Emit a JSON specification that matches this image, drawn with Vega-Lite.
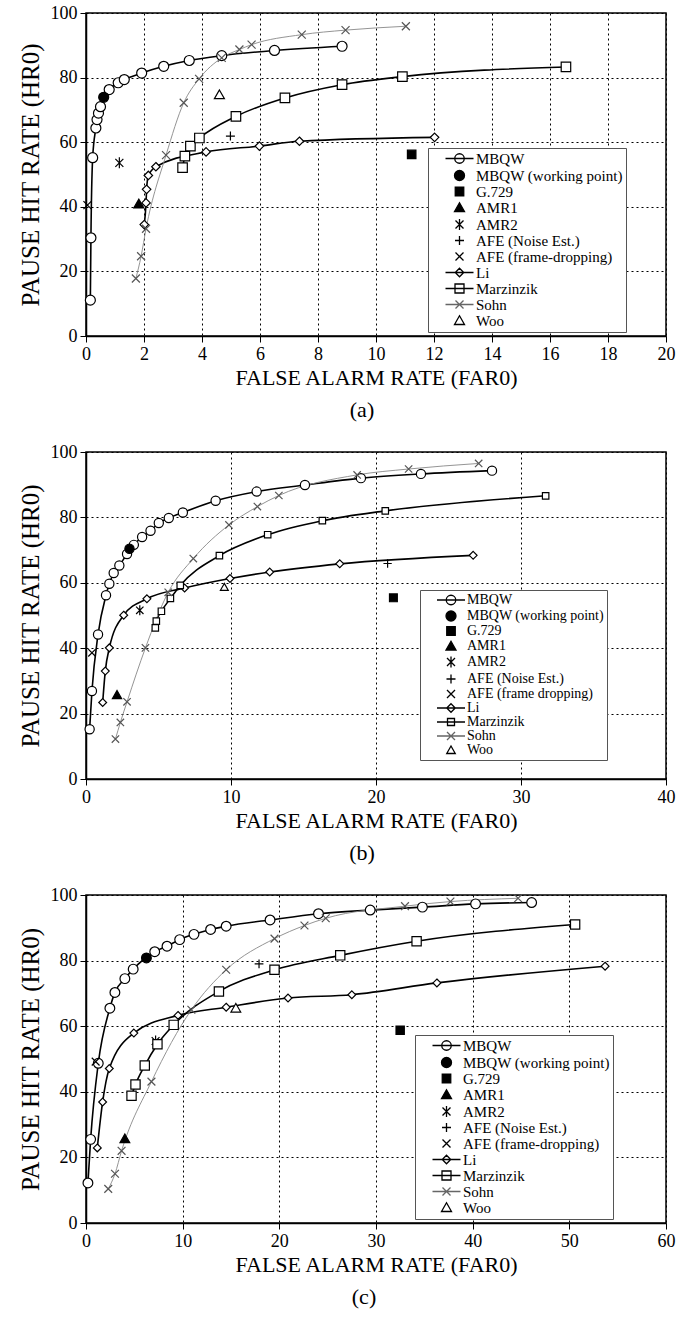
{
  "$schema": "https://vega.github.io/schema/vega-lite/v6.json",
  "background": "white",
  "padding": {"left": 17, "top": 3, "right": 5, "bottom": 5},
  "spacing": 20,
  "config": {
    "font": "Liberation Serif",
    "view": {"stroke": "black", "strokeWidth": 1.5},
    "axis": {
      "labelFont": "Liberation Serif", "titleFont": "Liberation Serif",
      "labelFontSize": 18, "titleFontSize": 22, "titleFontWeight": "normal",
      "labelColor": "black", "titleColor": "black",
      "domainColor": "black", "domainWidth": 1.5,
      "tickColor": "black", "tickSize": 6, "tickWidth": 1,
      "gridColor": "black", "gridDash": [2, 3], "gridWidth": 1, "gridOpacity": 1,
      "labelPadding": 3, "labelFlush": false
    },
    "axisY": {"titleFontSize": 25, "titlePadding": 7},
    "axisX": {"titlePadding": 4},
    "legend": {
      "labelFont": "Liberation Serif", "labelColor": "black",
      "labelLimit": 400, "strokeColor": "#555", "fillColor": "white", "padding": 3,
      "symbolOffset": 21, "labelOffset": 9, "title": null, "rowPadding": 0,
      "symbolStrokeWidth": 1.3, "symbolSize": 100
    }
  },
  "resolve": {
    "scale": {"x": "independent", "y": "independent", "shape": "independent", "fill": "independent", "stroke": "independent"},
    "legend": {"shape": "independent", "fill": "independent", "stroke": "independent"}
  },
  "vconcat": [
    {
      "width": 580, "height": 323,
      "title": {"text": "(a)", "orient": "bottom", "frame": "group", "anchor": "middle", "fontSize": 22, "font": "Liberation Serif", "fontWeight": "normal", "color": "black", "offset": 12, "dx": -14},
      "data": {"values": [
        {"s":"MBQW","x":0.15,"y":11.1},{"s":"MBQW","x":0.17,"y":30.4},{"s":"MBQW","x":0.23,"y":55.2},{"s":"MBQW","x":0.34,"y":64.4},{"s":"MBQW","x":0.38,"y":67},{"s":"MBQW","x":0.43,"y":69},{"s":"MBQW","x":0.5,"y":71},{"s":"MBQW","x":0.8,"y":76.3},{"s":"MBQW","x":1.11,"y":78.4},{"s":"MBQW","x":1.32,"y":79.4},{"s":"MBQW","x":1.92,"y":81.4},{"s":"MBQW","x":2.68,"y":83.5},{"s":"MBQW","x":3.56,"y":85.3},{"s":"MBQW","x":4.68,"y":86.8},{"s":"MBQW","x":6.5,"y":88.4},{"s":"MBQW","x":8.83,"y":89.7},
        {"s":"MBQW (working point)","x":0.61,"y":73.9},
        {"s":"G.729","x":11.23,"y":56.2},
        {"s":"AMR1","x":1.82,"y":40.9},
        {"s":"AMR2","x":1.15,"y":53.6},
        {"s":"AFE (Noise Est.)","x":4.98,"y":61.9},
        {"s":"AFE (frame-dropping)","x":0.05,"y":40.5},
        {"s":"Li","x":2.01,"y":34.5},{"s":"Li","x":2.07,"y":41.2},{"s":"Li","x":2.09,"y":45.4},{"s":"Li","x":2.15,"y":49.7},{"s":"Li","x":2.41,"y":52.4},{"s":"Li","x":4.14,"y":57},{"s":"Li","x":5.98,"y":58.8},{"s":"Li","x":7.36,"y":60.3},{"s":"Li","x":12.02,"y":61.5},
        {"s":"Marzinzik","x":3.33,"y":52.1},{"s":"Marzinzik","x":3.41,"y":55.7},{"s":"Marzinzik","x":3.6,"y":58.8},{"s":"Marzinzik","x":3.91,"y":61.3},{"s":"Marzinzik","x":5.17,"y":68},{"s":"Marzinzik","x":6.86,"y":73.7},{"s":"Marzinzik","x":8.83,"y":77.8},{"s":"Marzinzik","x":10.91,"y":80.3},{"s":"Marzinzik","x":16.55,"y":83.3},
        {"s":"Sohn","x":1.72,"y":17.8},{"s":"Sohn","x":1.9,"y":24.7},{"s":"Sohn","x":2.07,"y":33.2},{"s":"Sohn","x":2.76,"y":56},{"s":"Sohn","x":3.37,"y":72.2},{"s":"Sohn","x":3.9,"y":79.6},{"s":"Sohn","x":4.68,"y":86.1},{"s":"Sohn","x":5.29,"y":88.7},{"s":"Sohn","x":5.71,"y":90.2},{"s":"Sohn","x":7.44,"y":93.3},{"s":"Sohn","x":8.95,"y":94.7},{"s":"Sohn","x":11.03,"y":95.9},
        {"s":"Woo","x":4.6,"y":74.7}
      ]},
      "encoding": {
        "x": {"field": "x", "type": "quantitative", "scale": {"domain": [0, 20], "nice": false}, "axis": {"values": [0,2,4,6,8,10,12,14,16,18,20], "title": "FALSE ALARM RATE (FAR0)"}},
        "y": {"field": "y", "type": "quantitative", "scale": {"domain": [0, 100], "nice": false}, "axis": {"values": [0,20,40,60,80,100], "title": "PAUSE HIT RATE (HR0)"}}
      },
      "resolve": {"scale": {"shape": "independent", "fill": "independent", "stroke": "independent"}, "legend": {"shape": "independent", "fill": "independent", "stroke": "independent"}},
      "layer": [
        {"transform": [{"filter": {"field": "s", "oneOf": ["MBQW", "Li", "Marzinzik"]}}],
         "mark": {"type": "line", "interpolate": "monotone", "color": "black", "strokeWidth": 1.6},
         "encoding": {"detail": {"field": "s"}}},
        {"transform": [{"filter": {"field": "s", "equal": "Sohn"}}],
         "mark": {"type": "line", "interpolate": "monotone", "color": "#888", "strokeWidth": 0.9},
         "encoding": {}},
        {"mark": {"type": "point", "size": 100, "strokeWidth": 1.2, "opacity": 1},
         "encoding": {
           "shape": {"field": "s", "type": "nominal", "legend": null,
             "scale": {"domain": ["MBQW","MBQW (working point)","G.729","AMR1","AMR2","AFE (Noise Est.)","AFE (frame-dropping)","Li","Marzinzik","Sohn","Woo"],
               "range": ["circle","circle","M-0.85,-0.85H0.85V0.85H-0.85Z","M0,-0.95L1,0.8H-1Z","M-0.8,-0.8L0.8,0.8M-0.8,0.8L0.8,-0.8M0,-1.1V1.1","M-0.9,0H0.9M0,-0.9V0.9","M-0.8,-0.8L0.8,0.8M-0.8,0.8L0.8,-0.8","M0,-0.85L0.85,0L0,0.85L-0.85,0Z","M-0.95,-0.95H0.95V0.95H-0.95Z","M-0.8,-0.8L0.8,0.8M-0.8,0.8L0.8,-0.8","M0,-0.95L1,0.8H-1Z"]}},
           "fill": {"field": "s", "type": "nominal", "legend": null,
             "scale": {"domain": ["MBQW","MBQW (working point)","G.729","AMR1","AMR2","AFE (Noise Est.)","AFE (frame-dropping)","Li","Marzinzik","Sohn","Woo"],
               "range": ["white","black","black","black","transparent","transparent","transparent","white","white","transparent","white"]}},
           "stroke": {"field": "s", "type": "nominal", "legend": null,
             "scale": {"domain": ["MBQW","MBQW (working point)","G.729","AMR1","AMR2","AFE (Noise Est.)","AFE (frame-dropping)","Li","Marzinzik","Sohn","Woo"],
               "range": ["black","black","black","black","black","black","black","black","black","#555","black"]}}
         }},
        {"mark": {"type": "point", "size": 100, "opacity": 0, "strokeWidth": 1.3},
         "encoding": {
           "shape": {"field": "s", "type": "nominal",
             "scale": {"domain": ["MBQW","MBQW (working point)","G.729","AMR1","AMR2","AFE (Noise Est.)","AFE (frame-dropping)","Li","Marzinzik","Sohn","Woo"],
               "range": ["M-2.8,0H2.8M0.95,0A0.95,0.95 0 1 1 -0.95,0A0.95,0.95 0 1 1 0.95,0","circle","M-0.85,-0.85H0.85V0.85H-0.85Z","M0,-0.95L1,0.8H-1Z","M-0.8,-0.8L0.8,0.8M-0.8,0.8L0.8,-0.8M0,-1.1V1.1","M-0.9,0H0.9M0,-0.9V0.9","M-0.8,-0.8L0.8,0.8M-0.8,0.8L0.8,-0.8","M-2.8,0H2.8M0,-0.85L0.85,0L0,0.85L-0.85,0Z","M-2.8,0H2.8M-0.9,-0.9H0.9V0.9H-0.9Z","M-2.8,0H2.8M-0.8,-0.8L0.8,0.8M-0.8,0.8L0.8,-0.8","M0,-0.95L1,0.8H-1Z"]},
             "legend": {"orient": "none", "legendX": 342, "legendY": 135, "labelFontSize": 15, "symbolOpacity": 1}},
           "fill": {"field": "s", "type": "nominal",
             "scale": {"domain": ["MBQW","MBQW (working point)","G.729","AMR1","AMR2","AFE (Noise Est.)","AFE (frame-dropping)","Li","Marzinzik","Sohn","Woo"],
               "range": ["white","black","black","black","transparent","transparent","transparent","white","white","transparent","white"]},
             "legend": {"orient": "none", "legendX": 342, "legendY": 135, "labelFontSize": 15, "symbolOpacity": 1}},
           "stroke": {"field": "s", "type": "nominal",
             "scale": {"domain": ["MBQW","MBQW (working point)","G.729","AMR1","AMR2","AFE (Noise Est.)","AFE (frame-dropping)","Li","Marzinzik","Sohn","Woo"],
               "range": ["black","black","black","black","black","black","black","black","black","#666","black"]},
             "legend": {"orient": "none", "legendX": 342, "legendY": 135, "labelFontSize": 15, "symbolOpacity": 1}}
         }}
      ]
    },
    {
      "width": 580, "height": 327,
      "title": {"text": "(b)", "orient": "bottom", "frame": "group", "anchor": "middle", "fontSize": 22, "font": "Liberation Serif", "fontWeight": "normal", "color": "black", "offset": 12, "dx": -14},
      "data": {"values": [
        {"s":"MBQW","x":0.25,"y":15.2},{"s":"MBQW","x":0.41,"y":26.9},{"s":"MBQW","x":0.83,"y":44.2},{"s":"MBQW","x":1.38,"y":56.2},{"s":"MBQW","x":1.61,"y":59.7},{"s":"MBQW","x":1.91,"y":63},{"s":"MBQW","x":2.3,"y":65.3},{"s":"MBQW","x":2.83,"y":68.8},{"s":"MBQW","x":3.3,"y":71.6},{"s":"MBQW","x":3.87,"y":74},{"s":"MBQW","x":4.45,"y":75.9},{"s":"MBQW","x":5.02,"y":78.3},{"s":"MBQW","x":5.71,"y":79.8},{"s":"MBQW","x":6.68,"y":81.5},{"s":"MBQW","x":8.94,"y":85.1},{"s":"MBQW","x":11.77,"y":87.9},{"s":"MBQW","x":15.1,"y":89.9},{"s":"MBQW","x":18.96,"y":92},{"s":"MBQW","x":23.1,"y":93.3},{"s":"MBQW","x":28.0,"y":94.3},
        {"s":"MBQW (working point)","x":3.0,"y":70.4},
        {"s":"G.729","x":21.2,"y":55.4},
        {"s":"AMR1","x":2.14,"y":25.7},
        {"s":"AMR2","x":3.71,"y":51.6},
        {"s":"AFE (Noise Est.)","x":20.8,"y":65.9},
        {"s":"AFE (frame dropping)","x":0.41,"y":38.6},
        {"s":"Li","x":1.15,"y":23.4},{"s":"Li","x":1.33,"y":33},{"s":"Li","x":1.61,"y":40.1},{"s":"Li","x":2.6,"y":50.1},{"s":"Li","x":4.2,"y":55.1},{"s":"Li","x":6.8,"y":58.4},{"s":"Li","x":9.93,"y":61.3},{"s":"Li","x":12.67,"y":63.3},{"s":"Li","x":17.5,"y":65.8},{"s":"Li","x":26.7,"y":68.4},
        {"s":"Marzinzik","x":4.78,"y":46.2},{"s":"Marzinzik","x":4.85,"y":48.3},{"s":"Marzinzik","x":5.2,"y":51.3},{"s":"Marzinzik","x":5.82,"y":55.2},{"s":"Marzinzik","x":6.5,"y":59.2},{"s":"Marzinzik","x":9.2,"y":68.3},{"s":"Marzinzik","x":12.53,"y":74.7},{"s":"Marzinzik","x":16.3,"y":79},{"s":"Marzinzik","x":20.64,"y":82},{"s":"Marzinzik","x":31.7,"y":86.6},
        {"s":"Sohn","x":2.03,"y":12.2},{"s":"Sohn","x":2.37,"y":17.3},{"s":"Sohn","x":2.83,"y":23.6},{"s":"Sohn","x":4.1,"y":40.1},{"s":"Sohn","x":5.67,"y":57.1},{"s":"Sohn","x":7.4,"y":67.4},{"s":"Sohn","x":9.86,"y":77.7},{"s":"Sohn","x":11.82,"y":83.3},{"s":"Sohn","x":13.3,"y":86.7},{"s":"Sohn","x":18.7,"y":93},{"s":"Sohn","x":22.25,"y":94.8},{"s":"Sohn","x":27.08,"y":96.5},
        {"s":"Woo","x":9.54,"y":58.7}
      ]},
      "encoding": {
        "x": {"field": "x", "type": "quantitative", "scale": {"domain": [0, 40], "nice": false}, "axis": {"values": [0,10,20,30,40], "title": "FALSE ALARM RATE (FAR0)"}},
        "y": {"field": "y", "type": "quantitative", "scale": {"domain": [0, 100], "nice": false}, "axis": {"values": [0,20,40,60,80,100], "title": "PAUSE HIT RATE (HR0)"}}
      },
      "resolve": {"scale": {"shape": "independent", "fill": "independent", "stroke": "independent"}, "legend": {"shape": "independent", "fill": "independent", "stroke": "independent"}},
      "layer": [
        {"transform": [{"filter": {"field": "s", "oneOf": ["MBQW", "Li", "Marzinzik"]}}],
         "mark": {"type": "line", "interpolate": "monotone", "color": "black", "strokeWidth": 1.6},
         "encoding": {"detail": {"field": "s"}}},
        {"transform": [{"filter": {"field": "s", "equal": "Sohn"}}],
         "mark": {"type": "line", "interpolate": "monotone", "color": "#888", "strokeWidth": 0.9},
         "encoding": {}},
        {"mark": {"type": "point", "size": 85, "strokeWidth": 1.2, "opacity": 1},
         "encoding": {
           "shape": {"field": "s", "type": "nominal", "legend": null,
             "scale": {"domain": ["MBQW","MBQW (working point)","G.729","AMR1","AMR2","AFE (Noise Est.)","AFE (frame dropping)","Li","Marzinzik","Sohn","Woo"],
               "range": ["circle","circle","M-0.85,-0.85H0.85V0.85H-0.85Z","M0,-0.95L1,0.8H-1Z","M-0.8,-0.8L0.8,0.8M-0.8,0.8L0.8,-0.8M0,-1.1V1.1","M-0.9,0H0.9M0,-0.9V0.9","M-0.8,-0.8L0.8,0.8M-0.8,0.8L0.8,-0.8","M0,-0.85L0.85,0L0,0.85L-0.85,0Z","M-0.7,-0.7H0.7V0.7H-0.7Z","M-0.8,-0.8L0.8,0.8M-0.8,0.8L0.8,-0.8","M0,-0.8L0.85,0.7H-0.85Z"]}},
           "fill": {"field": "s", "type": "nominal", "legend": null,
             "scale": {"domain": ["MBQW","MBQW (working point)","G.729","AMR1","AMR2","AFE (Noise Est.)","AFE (frame dropping)","Li","Marzinzik","Sohn","Woo"],
               "range": ["white","black","black","black","transparent","transparent","transparent","white","white","transparent","white"]}},
           "stroke": {"field": "s", "type": "nominal", "legend": null,
             "scale": {"domain": ["MBQW","MBQW (working point)","G.729","AMR1","AMR2","AFE (Noise Est.)","AFE (frame dropping)","Li","Marzinzik","Sohn","Woo"],
               "range": ["black","black","black","black","black","black","black","black","black","#555","black"]}}
         }},
        {"mark": {"type": "point", "size": 100, "opacity": 0, "strokeWidth": 1.3},
         "encoding": {
           "shape": {"field": "s", "type": "nominal",
             "scale": {"domain": ["MBQW","MBQW (working point)","G.729","AMR1","AMR2","AFE (Noise Est.)","AFE (frame dropping)","Li","Marzinzik","Sohn","Woo"],
               "range": ["M-2.8,0H2.8M0.95,0A0.95,0.95 0 1 1 -0.95,0A0.95,0.95 0 1 1 0.95,0","circle","M-0.85,-0.85H0.85V0.85H-0.85Z","M0,-0.95L1,0.8H-1Z","M-0.8,-0.8L0.8,0.8M-0.8,0.8L0.8,-0.8M0,-1.1V1.1","M-0.9,0H0.9M0,-0.9V0.9","M-0.8,-0.8L0.8,0.8M-0.8,0.8L0.8,-0.8","M-2.8,0H2.8M0,-0.85L0.85,0L0,0.85L-0.85,0Z","M-2.8,0H2.8M-0.7,-0.7H0.7V0.7H-0.7Z","M-2.8,0H2.8M-0.8,-0.8L0.8,0.8M-0.8,0.8L0.8,-0.8","M0,-0.8L0.85,0.7H-0.85Z"]},
             "legend": {"orient": "none", "legendX": 334, "legendY": 138, "labelFontSize": 14, "symbolOpacity": 1}},
           "fill": {"field": "s", "type": "nominal",
             "scale": {"domain": ["MBQW","MBQW (working point)","G.729","AMR1","AMR2","AFE (Noise Est.)","AFE (frame dropping)","Li","Marzinzik","Sohn","Woo"],
               "range": ["white","black","black","black","transparent","transparent","transparent","white","white","transparent","white"]},
             "legend": {"orient": "none", "legendX": 334, "legendY": 138, "labelFontSize": 14, "symbolOpacity": 1}},
           "stroke": {"field": "s", "type": "nominal",
             "scale": {"domain": ["MBQW","MBQW (working point)","G.729","AMR1","AMR2","AFE (Noise Est.)","AFE (frame dropping)","Li","Marzinzik","Sohn","Woo"],
               "range": ["black","black","black","black","black","black","black","black","black","#666","black"]},
             "legend": {"orient": "none", "legendX": 334, "legendY": 138, "labelFontSize": 14, "symbolOpacity": 1}}
         }}
      ]
    },
    {
      "width": 580, "height": 328,
      "title": {"text": "(c)", "orient": "bottom", "frame": "group", "anchor": "middle", "fontSize": 22, "font": "Liberation Serif", "fontWeight": "normal", "color": "black", "offset": 12, "dx": -12},
      "data": {"values": [
        {"s":"MBQW","x":0.2,"y":12.2},{"s":"MBQW","x":0.48,"y":25.5},{"s":"MBQW","x":1.27,"y":48.7},{"s":"MBQW","x":2.47,"y":65.5},{"s":"MBQW","x":2.99,"y":70.3},{"s":"MBQW","x":4.02,"y":74.5},{"s":"MBQW","x":4.88,"y":77.4},{"s":"MBQW","x":7.11,"y":82.7},{"s":"MBQW","x":8.38,"y":84.4},{"s":"MBQW","x":9.69,"y":86.4},{"s":"MBQW","x":11.17,"y":88},{"s":"MBQW","x":12.89,"y":89.5},{"s":"MBQW","x":14.5,"y":90.5},{"s":"MBQW","x":19.04,"y":92.4},{"s":"MBQW","x":24.05,"y":94.3},{"s":"MBQW","x":29.4,"y":95.4},{"s":"MBQW","x":34.8,"y":96.3},{"s":"MBQW","x":40.3,"y":97.3},{"s":"MBQW","x":46.1,"y":97.7},
        {"s":"MBQW (working point)","x":6.25,"y":80.8},
        {"s":"G.729","x":32.5,"y":58.8},
        {"s":"AMR1","x":4.02,"y":25.7},
        {"s":"AMR2","x":7.2,"y":55.5},
        {"s":"AFE (Noise Est.)","x":17.9,"y":79},
        {"s":"AFE (frame-dropping)","x":1.0,"y":49.2},
        {"s":"Li","x":1.17,"y":22.9},{"s":"Li","x":1.72,"y":36.9},{"s":"Li","x":2.41,"y":47.1},{"s":"Li","x":4.95,"y":57.9},{"s":"Li","x":9.52,"y":63.3},{"s":"Li","x":14.5,"y":65.8},{"s":"Li","x":20.9,"y":68.6},{"s":"Li","x":27.5,"y":69.6},{"s":"Li","x":36.3,"y":73.2},{"s":"Li","x":53.7,"y":78.3},
        {"s":"Marzinzik","x":4.71,"y":38.8},{"s":"Marzinzik","x":5.12,"y":42.2},{"s":"Marzinzik","x":6.08,"y":48},{"s":"Marzinzik","x":7.39,"y":54.5},{"s":"Marzinzik","x":9.07,"y":60.4},{"s":"Marzinzik","x":13.75,"y":70.6},{"s":"Marzinzik","x":19.5,"y":77.2},{"s":"Marzinzik","x":26.3,"y":81.6},{"s":"Marzinzik","x":34.2,"y":85.9},{"s":"Marzinzik","x":50.6,"y":91},
        {"s":"Sohn","x":2.3,"y":10.4},{"s":"Sohn","x":3.0,"y":15.0},{"s":"Sohn","x":3.68,"y":22},{"s":"Sohn","x":6.77,"y":43.1},{"s":"Sohn","x":10.9,"y":65},{"s":"Sohn","x":14.5,"y":77.2},{"s":"Sohn","x":19.5,"y":86.7},{"s":"Sohn","x":22.6,"y":90.7},{"s":"Sohn","x":24.8,"y":92.9},{"s":"Sohn","x":33.0,"y":96.6},{"s":"Sohn","x":37.7,"y":98},{"s":"Sohn","x":44.7,"y":99},
        {"s":"Woo","x":15.5,"y":65.5}
      ]},
      "encoding": {
        "x": {"field": "x", "type": "quantitative", "scale": {"domain": [0, 60], "nice": false}, "axis": {"values": [0,10,20,30,40,50,60], "title": "FALSE ALARM RATE (FAR0)"}},
        "y": {"field": "y", "type": "quantitative", "scale": {"domain": [0, 100], "nice": false}, "axis": {"values": [0,20,40,60,80,100], "title": "PAUSE HIT RATE (HR0)"}}
      },
      "resolve": {"scale": {"shape": "independent", "fill": "independent", "stroke": "independent"}, "legend": {"shape": "independent", "fill": "independent", "stroke": "independent"}},
      "layer": [
        {"transform": [{"filter": {"field": "s", "oneOf": ["MBQW", "Li", "Marzinzik"]}}],
         "mark": {"type": "line", "interpolate": "monotone", "color": "black", "strokeWidth": 1.6},
         "encoding": {"detail": {"field": "s"}}},
        {"transform": [{"filter": {"field": "s", "equal": "Sohn"}}],
         "mark": {"type": "line", "interpolate": "monotone", "color": "#888", "strokeWidth": 0.9},
         "encoding": {}},
        {"mark": {"type": "point", "size": 95, "strokeWidth": 1.2, "opacity": 1},
         "encoding": {
           "shape": {"field": "s", "type": "nominal", "legend": null,
             "scale": {"domain": ["MBQW","MBQW (working point)","G.729","AMR1","AMR2","AFE (Noise Est.)","AFE (frame-dropping)","Li","Marzinzik","Sohn","Woo"],
               "range": ["circle","circle","M-0.85,-0.85H0.85V0.85H-0.85Z","M0,-0.95L1,0.8H-1Z","M-0.8,-0.8L0.8,0.8M-0.8,0.8L0.8,-0.8M0,-1.1V1.1","M-0.9,0H0.9M0,-0.9V0.9","M-0.8,-0.8L0.8,0.8M-0.8,0.8L0.8,-0.8","M0,-0.8L0.8,0L0,0.8L-0.8,0Z","M-0.95,-0.95H0.95V0.95H-0.95Z","M-0.8,-0.8L0.8,0.8M-0.8,0.8L0.8,-0.8","M0,-0.95L1,0.8H-1Z"]}},
           "fill": {"field": "s", "type": "nominal", "legend": null,
             "scale": {"domain": ["MBQW","MBQW (working point)","G.729","AMR1","AMR2","AFE (Noise Est.)","AFE (frame-dropping)","Li","Marzinzik","Sohn","Woo"],
               "range": ["white","black","black","black","transparent","transparent","transparent","white","white","transparent","white"]}},
           "stroke": {"field": "s", "type": "nominal", "legend": null,
             "scale": {"domain": ["MBQW","MBQW (working point)","G.729","AMR1","AMR2","AFE (Noise Est.)","AFE (frame-dropping)","Li","Marzinzik","Sohn","Woo"],
               "range": ["black","black","black","black","black","black","black","black","black","#555","black"]}}
         }},
        {"mark": {"type": "point", "size": 100, "opacity": 0, "strokeWidth": 1.3},
         "encoding": {
           "shape": {"field": "s", "type": "nominal",
             "scale": {"domain": ["MBQW","MBQW (working point)","G.729","AMR1","AMR2","AFE (Noise Est.)","AFE (frame-dropping)","Li","Marzinzik","Sohn","Woo"],
               "range": ["M-2.8,0H2.8M0.95,0A0.95,0.95 0 1 1 -0.95,0A0.95,0.95 0 1 1 0.95,0","circle","M-0.85,-0.85H0.85V0.85H-0.85Z","M0,-0.95L1,0.8H-1Z","M-0.8,-0.8L0.8,0.8M-0.8,0.8L0.8,-0.8M0,-1.1V1.1","M-0.9,0H0.9M0,-0.9V0.9","M-0.8,-0.8L0.8,0.8M-0.8,0.8L0.8,-0.8","M-2.8,0H2.8M0,-0.85L0.85,0L0,0.85L-0.85,0Z","M-2.8,0H2.8M-0.9,-0.9H0.9V0.9H-0.9Z","M-2.8,0H2.8M-0.8,-0.8L0.8,0.8M-0.8,0.8L0.8,-0.8","M0,-0.95L1,0.8H-1Z"]},
             "legend": {"orient": "none", "legendX": 329, "legendY": 140, "labelFontSize": 15, "symbolOpacity": 1}},
           "fill": {"field": "s", "type": "nominal",
             "scale": {"domain": ["MBQW","MBQW (working point)","G.729","AMR1","AMR2","AFE (Noise Est.)","AFE (frame-dropping)","Li","Marzinzik","Sohn","Woo"],
               "range": ["white","black","black","black","transparent","transparent","transparent","white","white","transparent","white"]},
             "legend": {"orient": "none", "legendX": 329, "legendY": 140, "labelFontSize": 15, "symbolOpacity": 1}},
           "stroke": {"field": "s", "type": "nominal",
             "scale": {"domain": ["MBQW","MBQW (working point)","G.729","AMR1","AMR2","AFE (Noise Est.)","AFE (frame-dropping)","Li","Marzinzik","Sohn","Woo"],
               "range": ["black","black","black","black","black","black","black","black","black","#666","black"]},
             "legend": {"orient": "none", "legendX": 329, "legendY": 140, "labelFontSize": 15, "symbolOpacity": 1}}
         }}
      ]
    }
  ]
}
